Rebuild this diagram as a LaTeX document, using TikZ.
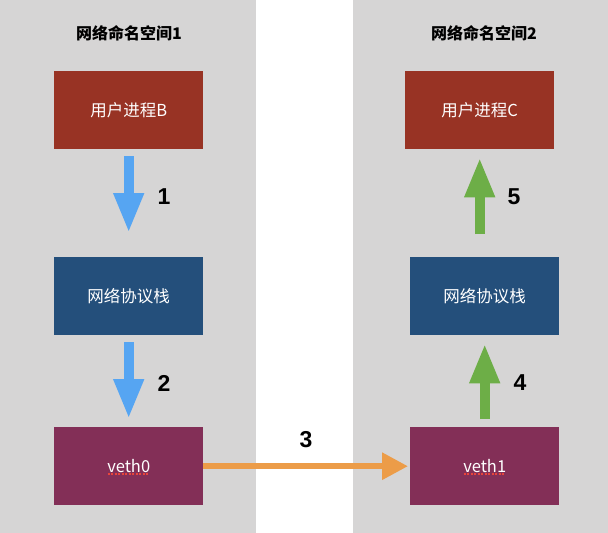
\documentclass[tikz,border=0pt]{standalone}
\usepackage{fontspec}
\setmainfont{Liberation Sans}
\newfontfamily\cjk{Noto Sans CJK SC}
\usetikzlibrary{arrows.meta,calc}
\definecolor{panelgray}{HTML}{D6D5D5}
\definecolor{procred}{HTML}{983324}
\definecolor{stackblue}{HTML}{244F7B}
\definecolor{vethpurple}{HTML}{832F57}
\definecolor{arrblue}{HTML}{56A5F2}
\definecolor{arrgreen}{HTML}{6DAE47}
\definecolor{arrorange}{HTML}{EC9C48}
\definecolor{spellred}{HTML}{E8453C}
\begin{document}
\begin{tikzpicture}[x=1pt,y=-1pt,
  boxnode/.style={minimum width=149pt,minimum height=78pt,inner sep=0pt,text=white,font=\cjk\fontsize{16.5}{16.5}\selectfont,anchor=north west},
  titlenode/.style={font=\cjk\bfseries\fontsize{16}{16}\selectfont,text=black},
  numnode/.style={font=\bfseries\fontsize{23}{23}\selectfont,text=black},
  bluearrow/.style={draw=arrblue,line width=10pt,-{Triangle[width=28pt,length=40pt]}},
  greenarrow/.style={draw=arrgreen,line width=10pt,-{Triangle[width=28pt,length=40pt]}},
  orangearrow/.style={draw=arrorange,line width=6pt,-{Triangle[width=26pt,length=26pt]}},
  spell/.style={draw=spellred,line width=1.6pt,dash pattern=on 2pt off 1.5pt}
]
\useasboundingbox (0,0) rectangle (608,533);
\fill[white] (0,0) rectangle (608,533);
\fill[panelgray] (0,0) rectangle (256,533);
\fill[panelgray] (353,0) rectangle (608,533);

\node[titlenode] (t1) at (129,33) {网络命名空间1};
\node[titlenode] (t2) at (484,33) {网络命名空间2};

\node[boxnode,fill=procred] (pb) at (54,71) {用户进程B};
\node[boxnode,fill=stackblue] (s1) at (54,257) {网络协议栈};
\node[boxnode,fill=vethpurple] (v0) at (54,427) {veth0};

\node[boxnode,fill=procred] (pc) at (405,71) {用户进程C};
\node[boxnode,fill=stackblue] (s2) at (410,257) {网络协议栈};
\node[boxnode,fill=vethpurple] (v1) at (410,427) {veth1};

\draw[spell] ($(v0.center)+(-21,8)$) -- ($(v0.center)+(21,8)$);
\draw[spell] ($(v1.center)+(-21,8)$) -- ($(v1.center)+(21,8)$);

\draw[bluearrow] ([yshift=-7pt]pb.south) -- ([yshift=24pt]s1.north);
\draw[bluearrow] ([yshift=-7pt]s1.south) -- ([yshift=8pt]v0.north);
\draw[greenarrow] ([yshift=8pt]v1.north) -- ([yshift=-8pt]s2.south);
\draw[greenarrow] ($(s2.north -| pc.south)+(0,-23)$) -- ([yshift=-8pt]pc.south);
\draw[orangearrow] (v0.east) -- ([xshift=-2pt]v1.west);

\node[numnode] (n1) at (164,197) {1};
\node[numnode] (n2) at (164,383) {2};
\node[numnode] (n3) at (306,440) {3};
\node[numnode] (n4) at (520,383) {4};
\node[numnode] (n5) at (514,197) {5};
\end{tikzpicture}
\end{document}
